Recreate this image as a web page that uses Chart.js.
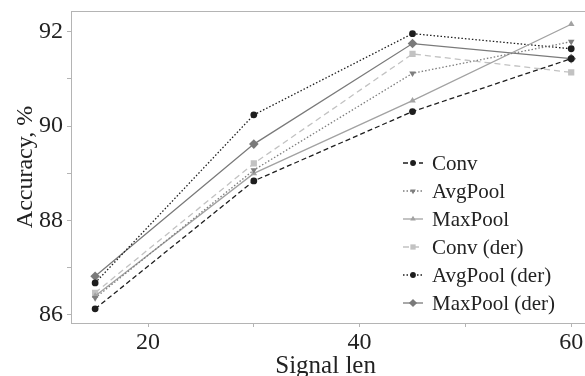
<!DOCTYPE html>
<html>
<head>
<meta charset="utf-8">
<script src="https://cdn.jsdelivr.net/npm/chart.js@4"></script>
<style>
  html, body { margin: 0; padding: 0; background: #fff; overflow: hidden; }
  #wrap { width: 585px; height: 376px; position: relative; }
</style>
</head>
<body>
<div id="wrap"><canvas id="chart"></canvas></div>
<script>
// ── data ──
const signalLen   = [15, 30, 45, 60];
const conv        = [86.13, 88.84, 90.31, 91.43];
const avgPool     = [86.36, 89.07, 91.12, 91.79];
const maxPool     = [86.40, 89.00, 90.54, 92.16];
const convDer     = [86.47, 89.21, 91.53, 91.14];
const avgPoolDer  = [86.68, 90.24, 91.96, 91.64];
const maxPoolDer  = [86.82, 89.62, 91.75, 91.43];

const seriesNames = ['Conv', 'AvgPool', 'MaxPool', 'Conv (der)', 'AvgPool (der)', 'MaxPool (der)'];
const xTicks      = [20, 30, 40, 50, 60];
const xLabelled   = [20, 40, 60];
const yTicks      = [86, 87, 88, 89, 90, 91, 92];
const yLabelled   = [86, 88, 90, 92];

const FONT = '"Liberation Serif", "DejaVu Serif", serif';
const AXIS_COLOR = '#b4b4b4';

const styles = [
  { color: '#1e1e1e', dash: [5, 3],   point: 'circle',   rot: 0,   r: 3.4 },
  { color: '#7e7e7e', dash: [1.5, 2], point: 'triangle', rot: 180, r: 3.8 },
  { color: '#a2a2a2', dash: [],       point: 'triangle', rot: 0,   r: 3.8 },
  { color: '#c2c2c2', dash: [6, 4],   point: 'rect',     rot: 0,   r: 4.4 },
  { color: '#1e1e1e', dash: [1.5, 2], point: 'circle',   rot: 0,   r: 3.4 },
  { color: '#7a7a7a', dash: [],       point: 'rectRot',  rot: 0,   r: 4.8 },
];

const allSeries = [conv, avgPool, maxPool, convDer, avgPoolDer, maxPoolDer];

const datasets = allSeries.map((vals, i) => ({
  label: seriesNames[i],
  data: vals.map((v, j) => ({ x: signalLen[j], y: v })),
  showLine: true,
  borderColor: styles[i].color,
  backgroundColor: styles[i].color,
  borderDash: styles[i].dash,
  borderWidth: 1.3,
  pointStyle: styles[i].point,
  rotation: styles[i].rot,
  pointRadius: styles[i].r,
  pointBorderWidth: 0,
  tension: 0,
}));

// ── legend drawn inside the plot + top frame line ──
const innerLegend = {
  id: 'innerLegend',
  afterDatasetsDraw(chart) {
    const { ctx, chartArea } = chart;
    ctx.save();
    ctx.strokeStyle = AXIS_COLOR;
    ctx.lineWidth = 1;
    ctx.beginPath();
    ctx.moveTo(chartArea.left, chartArea.top + 0.5);
    ctx.lineTo(chart.width, chartArea.top + 0.5);
    ctx.moveTo(chartArea.right, chartArea.bottom + 0.5);
    ctx.lineTo(chart.width, chartArea.bottom + 0.5);
    ctx.stroke();

    const x0 = 403, x1 = 423, tx = 432, y0 = 163, gap = 28;
    ctx.font = '21px ' + FONT;
    ctx.textBaseline = 'middle';
    seriesNames.forEach((name, i) => {
      const s = styles[i];
      const y = y0 + gap * i;
      ctx.strokeStyle = s.color;
      ctx.lineWidth = 1.3;
      ctx.setLineDash(s.dash);
      ctx.beginPath();
      ctx.moveTo(x0, y);
      ctx.lineTo(x1, y);
      ctx.stroke();
      ctx.setLineDash([]);
      ctx.fillStyle = s.color;
      Chart.helpers.drawPoint(ctx, {
        pointStyle: s.point, rotation: s.rot, radius: s.r * 0.85, borderWidth: 0,
      }, (x0 + x1) / 2, y);
      ctx.fillStyle = '#222';
      ctx.fillText(name, tx, y + 1);
    });
    ctx.restore();
  },
};

new Chart(document.getElementById('chart'), {
  type: 'scatter',
  data: { datasets },
  plugins: [innerLegend],
  options: {
    responsive: true,
    maintainAspectRatio: false,
    animation: false,
    layout: { padding: { top: 11, right: 0, left: 0, bottom: 0 } },
    plugins: { legend: { display: false }, tooltip: { enabled: false } },
    scales: {
      x: {
        type: 'linear',
        min: 12.72,
        max: 60.85,
        afterBuildTicks: s => { s.ticks = xTicks.map(v => ({ value: v })); },
        afterFit: s => { s.height = 53; s.paddingLeft = 0; s.paddingRight = 0; },
        border: { color: AXIS_COLOR, width: 1 },
        grid: { drawOnChartArea: false, tickLength: 4, tickColor: AXIS_COLOR },
        ticks: {
          color: '#222',
          padding: 1,
          maxRotation: 0,
          font: { family: FONT, size: 24 },
          callback: v => xLabelled.includes(v) ? String(v) : '',
        },
        title: {
          display: true,
          text: 'Signal len',
          color: '#222',
          padding: { top: 0, bottom: -5 },
          font: { family: FONT, size: 25 },
        },
      },
      y: {
        min: 85.83,
        max: 92.44,
        afterBuildTicks: s => { s.ticks = yTicks.map(v => ({ value: v })); },
        afterFit: s => { s.width = 71; s.paddingTop = 0; s.paddingBottom = 0; },
        border: { color: AXIS_COLOR, width: 1 },
        grid: { drawOnChartArea: false, tickLength: 4, tickColor: AXIS_COLOR },
        ticks: {
          color: '#222',
          padding: 4,
          font: { family: FONT, size: 24 },
          callback: v => yLabelled.includes(v) ? String(v) : '',
        },
        title: {
          display: true,
          text: 'Accuracy, %',
          color: '#222',
          padding: { top: 11, bottom: 0 },
          font: { family: FONT, size: 24 },
        },
      },
    },
  },
});
</script>
</body>
</html>
